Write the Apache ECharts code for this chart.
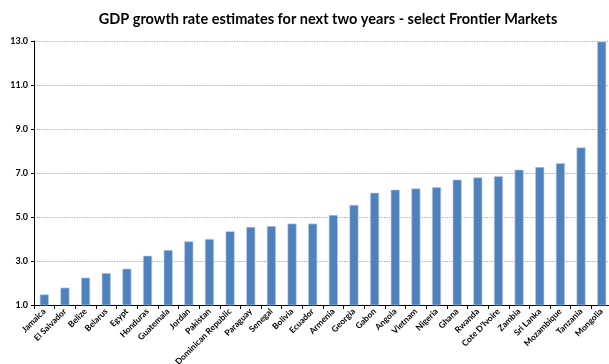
<!DOCTYPE html>
<html><head><meta charset="utf-8">
<script src="https://cdn.jsdelivr.net/npm/echarts@6/dist/echarts.min.js"></script>
<style>html,body{margin:0;padding:0;background:#fff;overflow:hidden}#c{width:609px;height:364px}</style>
</head><body><div id="c"></div>
<script>
const countries = ["Jamaica","El Salvador","Belize","Belarus","Egypt","Honduras","Guatemala","Jordan","Pakistan","Dominican Republic","Paraguay","Senegal","Bolivia","Ecuador","Armenia","Georgia","Gabon","Angola","Vietnam","Nigeria","Ghana","Rwanda","Cote D'Ivoire","Zambia","Sri Lanka","Mozambique","Tanzania","Mongolia"];
const growth = [1.48,1.79,2.24,2.45,2.65,3.24,3.5,3.89,4.0,4.35,4.55,4.59,4.7,4.7,5.09,5.55,6.1,6.24,6.3,6.35,6.7,6.8,6.86,7.15,7.27,7.45,8.16,12.97];
const yMin = 1, yMax = 13, yStep = 2;
const titleText = "GDP growth rate estimates for next two years - select Frontier Markets";

const chart = echarts.init(document.getElementById('c'));
chart.setOption({
  animation: false,
  title: {text: titleText, left: 323, textAlign: 'center', top: 7,
    textStyle: {fontFamily: 'Lato', fontWeight: 'bold', fontSize: 14.5, color: '#000'}},
  grid: {left: 34, right: -3, top: 41, bottom: 59, containLabel: false, outerBoundsMode: 'none'},
  xAxis: {type: 'category', data: countries,
    axisLine: {lineStyle: {color: '#000', width: 1}},
    axisTick: {show: true, alignWithLabel: false, length: 4, lineStyle: {color: '#000'}},
    axisLabel: {rotate: 45, interval: 0, fontFamily: 'Lato', fontWeight: 'bold', fontSize: 8.5, color: '#000', margin: 5, hideOverlap: false}},
  yAxis: {type: 'value', min: yMin, max: yMax, interval: yStep,
    axisLine: {show: true, lineStyle: {color: '#000', width: 1}},
    axisTick: {show: true, length: 3, lineStyle: {color: '#000'}},
    axisLabel: {formatter: v => v.toFixed(1), fontFamily: 'Lato', fontWeight: 'bold', fontSize: 9, color: '#000', margin: 6},
    splitLine: {show: true, lineStyle: {color: '#b4b4b4', type: [1.5, 1], width: 1}}},
  series: [{type: 'bar', data: growth, barWidth: 9,
    itemStyle: {color: '#4F81BD', borderColor: '#B9CDE5', borderWidth: 0.6}}]
});
</script></body></html>
